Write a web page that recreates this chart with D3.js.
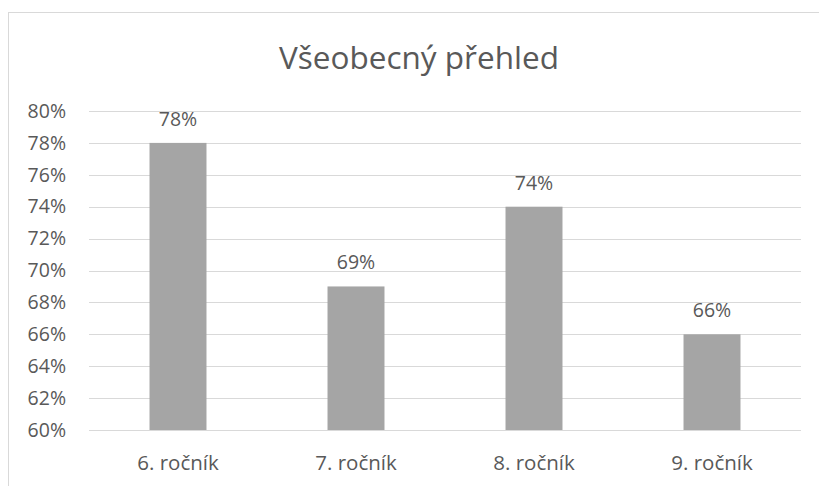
<!DOCTYPE html>
<html>
<head>
<meta charset="utf-8">
<script src="https://cdn.jsdelivr.net/npm/d3@7"></script>
<style>
  body { margin: 0; background: #fff; }
  text { font-family: "Open Sans", sans-serif; fill: #595959; }
</style>
</head>
<body>
<svg id="chart"></svg>
<script>
const categories = ["6. ročník", "7. ročník", "8. ročník", "9. ročník"];
const values = [0.78, 0.69, 0.74, 0.66];
const yTicks = [0.60, 0.62, 0.64, 0.66, 0.68, 0.70, 0.72, 0.74, 0.76, 0.78, 0.80];
const title = "Všeobecný přehled";

const width = 819, height = 486;
const margin = { top: 111, right: 18, bottom: 56, left: 89 };

const svg = d3.select("#chart")
  .attr("width", width)
  .attr("height", height);

// chart frame (runs off the right and bottom edge like the screenshot)
svg.append("rect")
  .attr("x", 8.5).attr("y", 12.5)
  .attr("width", 830).attr("height", 500)
  .attr("fill", "none")
  .attr("stroke", "#d9d9d9");

svg.append("text")
  .attr("x", 419).attr("y", 69)
  .attr("text-anchor", "middle")
  .style("font-size", "31.5px")
  .text(title);

const x = d3.scaleBand()
  .domain(categories)
  .range([margin.left, width - margin.right])
  .paddingInner(0.68)
  .paddingOuter(0.34);

const y = d3.scaleLinear()
  .domain([0.60, 0.80])
  .range([height - margin.bottom, margin.top]);

// gridlines
svg.append("g")
  .selectAll("line")
  .data(yTicks)
  .join("line")
  .attr("x1", margin.left).attr("x2", width - margin.right)
  .attr("y1", d => Math.round(y(d)) + 0.5)
  .attr("y2", d => Math.round(y(d)) + 0.5)
  .attr("stroke", "#d9d9d9")
  .attr("stroke-width", 1);

// y axis labels
const yAxis = d3.axisLeft(y)
  .tickValues(yTicks)
  .tickFormat(d3.format(".0%"))
  .tickSize(0)
  .tickPadding(23);

svg.append("g")
  .attr("transform", `translate(${margin.left},0)`)
  .call(yAxis)
  .call(g => g.select(".domain").remove())
  .selectAll("text")
  .style("font-size", "19.5px")
  .attr("fill", "#595959");

// bars
svg.append("g")
  .selectAll("rect")
  .data(values)
  .join("rect")
  .attr("x", (d, i) => x(categories[i]))
  .attr("y", d => y(d))
  .attr("width", x.bandwidth())
  .attr("height", d => y(0.60) - y(d))
  .attr("fill", "#a5a5a5");

// data labels
svg.append("g")
  .selectAll("text")
  .data(values)
  .join("text")
  .attr("x", (d, i) => x(categories[i]) + x.bandwidth() / 2)
  .attr("y", d => y(d) - 17)
  .attr("text-anchor", "middle")
  .style("font-size", "19.5px")
  .text(d => d3.format(".0%")(d));

// x axis labels
const xAxis = d3.axisBottom(x).tickSize(0);
svg.append("g")
  .attr("transform", `translate(0,${height - margin.bottom})`)
  .call(xAxis)
  .call(g => g.select(".domain").remove())
  .selectAll("text")
  .attr("y", 40)
  .attr("dy", 0)
  .style("font-size", "20.5px")
  .attr("fill", "#595959");
</script>
</body>
</html>
